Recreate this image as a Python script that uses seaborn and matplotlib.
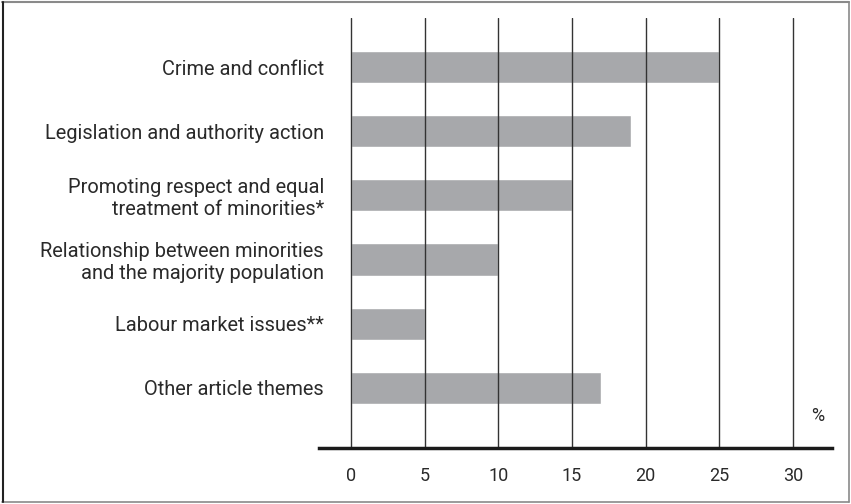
import matplotlib
matplotlib.use("Agg")
import matplotlib.pyplot as plt
import seaborn as sns
import pandas as pd
from matplotlib.lines import Line2D

categories = [
    "Crime and conflict",
    "Legislation and authority action",
    "Promoting respect and equal\ntreatment of minorities*",
    "Relationship between minorities\nand the majority population",
    "Labour market issues**",
    "Other article themes",
]
values = [25, 19, 15, 10, 5, 17]
xticks = [0, 5, 10, 15, 20, 25, 30]
unit_label = "%"

sns.set_theme(style="white")
plt.rcParams['font.family'] = ['Roboto', 'DejaVu Sans']

W, H = 851, 504
fig = plt.figure(figsize=(W/100, H/100), dpi=100)
ax = fig.add_axes([319/W, 1-448/H, (832-319)/W, (448-18)/H])

df = pd.DataFrame({"cat": categories, "val": values})
sns.barplot(data=df, x="val", y="cat", orient="h", color="#a7a8ab",
            saturation=1, width=0.5, ax=ax, zorder=2)

ax.set_xlim(-2.17, 32.65)
ax.set_ylim(5.945, -0.773)
ax.set_xticks(xticks)
ax.set_xticklabels([str(t) for t in xticks])
ax.set_xlabel("")
ax.set_ylabel("")

for t in xticks:
    ax.axvline(t, color="#333333", lw=1.0, zorder=3)

for s in ["top", "right", "left"]:
    ax.spines[s].set_visible(False)
ax.spines["bottom"].set_color("#1a1a1a")
ax.spines["bottom"].set_linewidth(2.5)
ax.spines["bottom"].set_zorder(4)

ax.tick_params(axis="x", length=0, pad=14, labelsize=13, colors="#2a2a2a")
ax.tick_params(axis="y", length=0, pad=-3.6, labelsize=14.4, colors="#2a2a2a")
for lab in ax.get_yticklabels():
    lab.set_linespacing(1.2)

ax.text(31.7, 5.445, unit_label, ha="center", va="center", fontsize=13, color="#2a2a2a")

# figure frame
fig.lines.append(Line2D([2/W, 849/W], [1-2/H, 1-2/H], transform=fig.transFigure, color="#8a8a8a", lw=1.5))
fig.lines.append(Line2D([2/W, 849/W], [2/H, 2/H], transform=fig.transFigure, color="#8a8a8a", lw=1.2))
fig.lines.append(Line2D([849/W, 849/W], [2/H, 1-2/H], transform=fig.transFigure, color="#8a8a8a", lw=1.2))
fig.lines.append(Line2D([3/W, 3/W], [2/H, 1-2/H], transform=fig.transFigure, color="#222222", lw=1.5))

fig.savefig("out.png", dpi=100)
